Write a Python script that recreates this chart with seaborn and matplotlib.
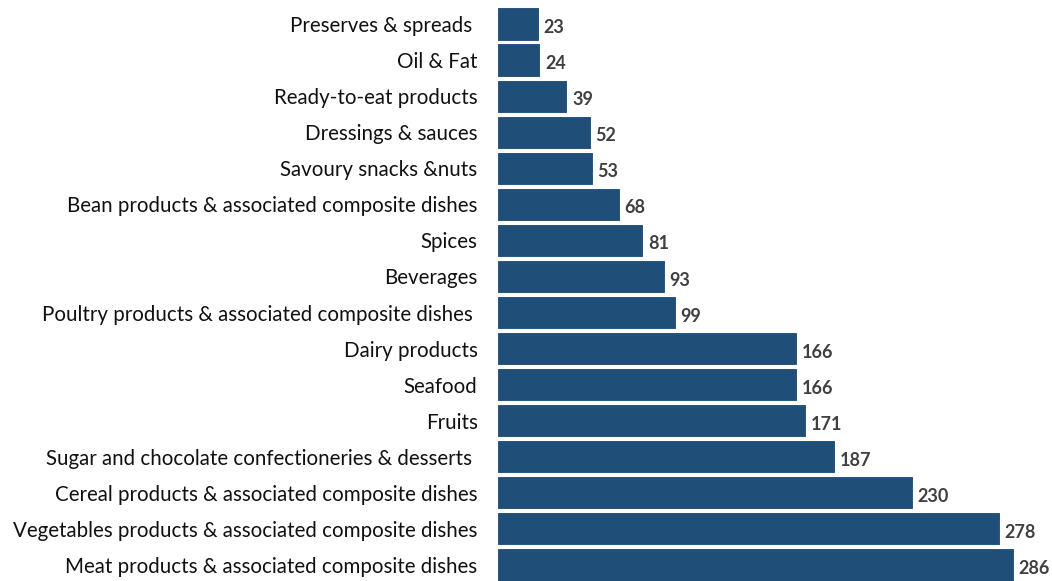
import matplotlib
matplotlib.use('Agg')
import matplotlib.pyplot as plt
import seaborn as sns
import pandas as pd

# categories and counts, top to bottom
categories = [
    'Preserves & spreads ',
    'Oil & Fat',
    'Ready-to-eat products',
    'Dressings & sauces',
    'Savoury snacks &nuts',
    'Bean products & associated composite dishes',
    'Spices',
    'Beverages',
    'Poultry products & associated composite dishes ',
    'Dairy products',
    'Seafood',
    'Fruits',
    'Sugar and chocolate confectioneries & desserts ',
    'Cereal products & associated composite dishes',
    'Vegetables products & associated composite dishes',
    'Meat products & associated composite dishes',
]
counts = [23, 24, 39, 52, 53, 68, 81, 93, 99, 166, 166, 171, 187, 230, 278, 286]

df = pd.DataFrame({'category': categories, 'count': counts})

sns.set_style('white')
plt.rcParams['font.family'] = ['Lato', 'DejaVu Sans']

fig = plt.figure(figsize=(10.52, 5.81), dpi=100)
ax = fig.add_axes([0.4724, -0.0034, 0.5156, 0.9931])

sns.barplot(data=df, y='category', x='count', orient='h', color='#1f4e79',
            width=0.92, saturation=1, edgecolor='white', linewidth=0.8, ax=ax)

ax.set_xlim(0, 300)
ax.set_ylim(15.5, -0.5)
ax.set_xlabel('')
ax.set_ylabel('')
ax.set_xticks([])
ax.tick_params(axis='y', length=0, pad=14, labelsize=14.8, labelcolor='#111111')
for s in ax.spines.values():
    s.set_visible(False)

for i, v in enumerate(counts):
    ax.text(v + 2.5, i + 0.1, str(v), va='center', ha='left',
            fontsize=13, fontweight='bold', color='#404040')

fig.savefig('out.png', dpi=100)
